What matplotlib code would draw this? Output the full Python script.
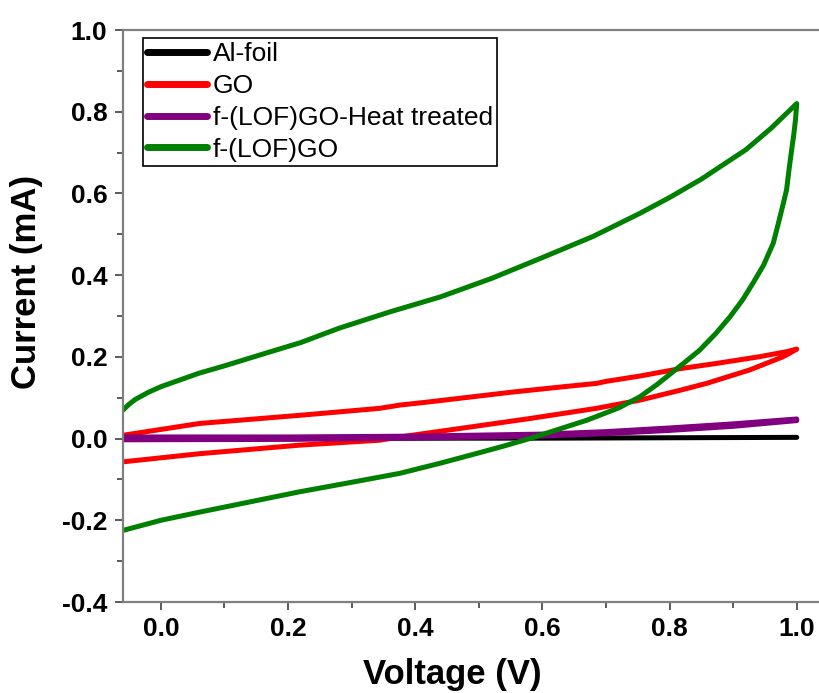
import matplotlib
matplotlib.use('Agg')
import matplotlib.pyplot as plt
from matplotlib.ticker import MultipleLocator

plt.rcParams['font.family'] = ['Liberation Sans', 'DejaVu Sans']

# Al-foil (nearly flat)
al_v = [-0.06, 0.2, 0.4, 0.6, 0.8, 1.0]
al_i = [0.0, 0.0, 0.001, 0.001, 0.002, 0.003]

# GO loop: forward then reverse
go_v_fwd = [-0.06, 0.061, 0.219, 0.344, 0.376, 0.423, 0.554, 0.64, 0.685, 0.7, 0.753, 0.816, 0.874, 0.94, 0.985, 1.0]
go_i_fwd = [0.008, 0.037, 0.057, 0.074, 0.082, 0.09, 0.114, 0.128, 0.135, 0.14, 0.153, 0.171, 0.184, 0.2, 0.213, 0.219]
go_v_rev = [1.0, 0.99, 0.978, 0.926, 0.858, 0.816, 0.753, 0.685, 0.58, 0.449, 0.376, 0.344, 0.219, 0.061, -0.06]
go_i_rev = [0.219, 0.21, 0.2, 0.168, 0.135, 0.118, 0.094, 0.074, 0.049, 0.02, 0.004, -0.004, -0.016, -0.037, -0.057]

# f-(LOF)GO heat treated
ht_v_fwd = [-0.06, 0.2, 0.4, 0.6, 0.7, 0.8, 0.9, 1.0]
ht_i_fwd = [0.004, 0.004, 0.006, 0.011, 0.017, 0.026, 0.036, 0.048]
ht_v_rev = [1.0, 0.9, 0.8, 0.7, 0.6, 0.4, 0.2, -0.06]
ht_i_rev = [0.044, 0.030, 0.020, 0.012, 0.006, 0.001, -0.002, -0.003]

# f-(LOF)GO
lof_v_fwd = [-0.06, -0.05, -0.04, -0.02, 0.0, 0.06, 0.1, 0.167, 0.22, 0.28, 0.36, 0.44, 0.52, 0.6,
             0.68, 0.753, 0.8, 0.85, 0.92, 0.96, 1.0]
lof_i_fwd = [0.069, 0.084, 0.096, 0.113, 0.127, 0.16, 0.178, 0.21, 0.235, 0.27, 0.31, 0.347, 0.392, 0.443,
             0.495, 0.551, 0.59, 0.635, 0.707, 0.76, 0.82]
lof_v_rev = [1.0, 0.998, 0.995, 0.992, 0.988, 0.984, 0.978, 0.97, 0.963, 0.948, 0.931, 0.915, 0.895,
             0.872, 0.847, 0.825, 0.805, 0.78, 0.753, 0.72, 0.67, 0.62, 0.58, 0.54, 0.5, 0.44, 0.376,
             0.3, 0.219, 0.14, 0.061, 0.0, -0.06]
lof_i_rev = [0.82, 0.78, 0.74, 0.707, 0.66, 0.609, 0.57, 0.52, 0.478, 0.425, 0.38, 0.34, 0.298,
             0.256, 0.216, 0.188, 0.163, 0.132, 0.102, 0.075, 0.045, 0.02, 0.0, -0.018, -0.035, -0.06, -0.085,
             -0.107, -0.13, -0.155, -0.18, -0.2, -0.225]

labels = ['Al-foil', 'GO', 'f-(LOF)GO-Heat treated', 'f-(LOF)GO']
colors = ['black', '#ff0000', '#800080', '#008000']

fig = plt.figure(figsize=(8.19, 6.93), dpi=100)
ax = fig.add_axes([0.1498, 0.1313, 0.8502, 0.8254])

lw = 3.6
style = dict(lw=lw, solid_capstyle='round', solid_joinstyle='round')
ax.plot(al_v, al_i, color=colors[0], label=labels[0], **style)
ax.plot(go_v_fwd + go_v_rev, go_i_fwd + go_i_rev, color=colors[1], label=labels[1], **style)
ax.plot(ht_v_fwd + ht_v_rev, ht_i_fwd + ht_i_rev, color=colors[2], label=labels[2], **style)
ax.plot(lof_v_fwd + lof_v_rev, lof_i_fwd + lof_i_rev, color=colors[3], label=labels[3], **style)

ax.set_xlim(-0.06, 1.035)
ax.set_ylim(-0.4, 1.0)

ax.xaxis.set_major_locator(MultipleLocator(0.2))
ax.xaxis.set_minor_locator(MultipleLocator(0.1))
ax.yaxis.set_major_locator(MultipleLocator(0.2))
ax.yaxis.set_minor_locator(MultipleLocator(0.1))
ax.xaxis.set_major_formatter(plt.FormatStrFormatter('%.1f'))
ax.yaxis.set_major_formatter(plt.FormatStrFormatter('%.1f'))

for side in ['left', 'bottom', 'top']:
    ax.spines[side].set_color('#808080')
    ax.spines[side].set_linewidth(1.6)
ax.spines['right'].set_visible(False)

ax.tick_params(which='major', direction='out', length=6, width=1.2, color='#404040',
               labelsize=19, pad=5, top=False, right=False)
ax.tick_params(which='minor', direction='out', length=4, width=1.2, color='#404040',
               top=False, right=False)
for t in ax.get_xticklabels() + ax.get_yticklabels():
    t.set_fontweight('bold')

ax.set_xlabel('Voltage (V)', fontsize=25, fontweight='bold')
ax.set_ylabel('Current (mA)', fontsize=25, fontweight='bold')
ax.xaxis.set_label_coords(0.473, -0.098)
ax.yaxis.set_label_coords(-0.115, 0.559)

leg = ax.legend(loc='upper left', bbox_to_anchor=(0.0287, 0.986), borderaxespad=0,
                fontsize=19, frameon=True, fancybox=False, framealpha=1,
                handlelength=2.3, handletextpad=0.2, labelspacing=0.3, borderpad=0.15)
leg.get_frame().set_edgecolor('black')
leg.get_frame().set_linewidth(1.2)
for h in leg.get_lines():
    h.set_linewidth(5)

fig.savefig('out.png', dpi=100)
